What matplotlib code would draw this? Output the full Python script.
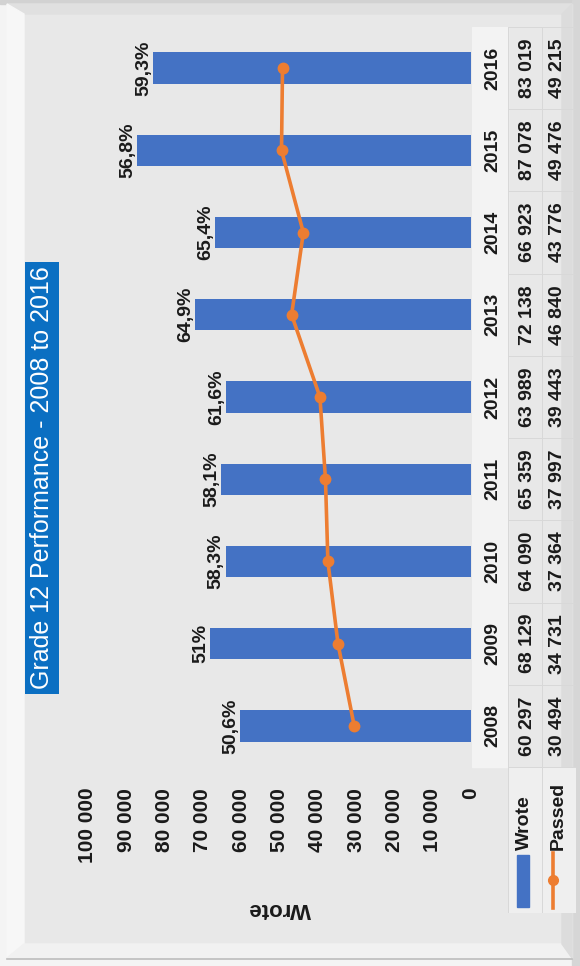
import matplotlib
matplotlib.use("Agg")
import matplotlib.pyplot as plt
from matplotlib.patches import Rectangle, Polygon

plt.rcParams['font.family'] = ['Liberation Sans', 'DejaVu Sans']

# ---- data ----
years = [2008, 2009, 2010, 2011, 2012, 2013, 2014, 2015, 2016]
wrote = [60297, 68129, 64090, 65359, 63989, 72138, 66923, 87078, 83019]
passed = [30494, 34731, 37364, 37997, 39443, 46840, 43776, 49476, 49215]
pct_labels = ["50,6%", "51%", "58,3%", "58,1%", "61,6%", "64,9%", "65,4%", "56,8%", "59,3%"]
value_ticks = [0, 10000, 20000, 30000, 40000, 50000, 60000, 70000, 80000, 90000, 100000]
title = "Grade 12 Performance - 2008 to 2016"

W, H = 580, 966
fig = plt.figure(figsize=(W / 100, H / 100), dpi=100, facecolor='#f4f4f4')

def fx(px):
    return px / W

def fy(py):
    return 1 - py / H

# ---- bevelled panel background ----
bg = fig.add_axes([0, 0, 1, 1])
bg.set_xlim(0, W)
bg.set_ylim(H, 0)
bg.axis('off')
L, T, R, B = 7, 4, 572, 958
iL, iT, iR, iB = 24, 14, 562, 944
bg.add_patch(Rectangle((0, 0), W, T, color='#d2d2d2', zorder=0))
bg.add_patch(Rectangle((R, 0), W - R, H, color='#d6d6d6', zorder=0))
bg.add_patch(Rectangle((L, T), R - L, B - T, color='#e8e8e8', zorder=1))
bg.add_patch(Polygon([(L, T), (R, T), (iR, iT), (iL, iT)], closed=True, color='#e0e0e0', zorder=2))
bg.add_patch(Polygon([(L, T), (iL, iT), (iL, iB), (L, B)], closed=True, color='#f7f7f7', zorder=2))
bg.add_patch(Polygon([(L, B), (iL, iB), (iR, iB), (R, B)], closed=True, color='#f1f1f1', zorder=2))
bg.add_patch(Polygon([(R, T), (R, B), (iR, iB), (iR, iT)], closed=True, color='#dcdcdc', zorder=2))
bg.plot([L, R], [B + 1, B + 1], color='#bdbdbd', lw=1.2, zorder=3)

# ---- main chart (rotated: bars grow to the left) ----
ax_top, ax_bot = 27, 767
ax = fig.add_axes([fx(88), fy(ax_bot), fx(471) - fx(88), (ax_bot - ax_top) / H])
ax.patch.set_alpha(0)
idx = list(range(len(years)))
ax.barh(idx, wrote, height=0.38, color='#4472c4', zorder=2)
ax.plot(passed, idx, color='#ed7d31', lw=2.6, marker='o', ms=7.5, zorder=3)
for i, (w, lab) in enumerate(zip(wrote, pct_labels)):
    ax.annotate(lab, (w, i), xytext=(-0.5, 0), textcoords='offset points',
                rotation=90, ha='right', va='center', fontsize=14, fontweight='bold',
                color='#1a1a1a')
ax.set_xlim(100000, 0)
ax.set_ylim(-0.5, 8.5)
ax.set_xticks(value_ticks)
ax.set_xticklabels([f"{v:,}".replace(",", " ") for v in value_ticks],
                   rotation=90, fontsize=15, fontweight='bold', color='#1a1a1a')
ax.tick_params(axis='x', length=0, pad=15)
ax.set_yticks([])
for s in ax.spines.values():
    s.set_visible(False)
ax.set_xlabel("Wrote", rotation=180, fontsize=16, fontweight='bold', color='#1a1a1a', labelpad=25)

# ---- data table ----
tab_bot = 913
ppu = (ax_bot - ax_top) / 9.0
ylo = -0.5 - (tab_bot - ax_bot) / ppu
at = fig.add_axes([fx(472), fy(tab_bot), fx(576) - fx(472), (tab_bot - ax_top) / H])
at.set_xlim(472, 576)
at.set_ylim(ylo, 8.5)
at.axis('off')
at.add_patch(Rectangle((472, -0.5), 36, 9, color='#f3f3f3', zorder=0))
for k in range(10):
    at.plot([508, 576], [k - 0.5, k - 0.5], color='#d8d8d8', lw=0.7, zorder=1)
at.plot([508, 508], [ylo, 8.5], color='#d8d8d8', lw=0.7, zorder=1)
at.plot([542, 542], [ylo, 8.5], color='#d8d8d8', lw=0.7, zorder=1)
at.add_patch(Rectangle((508, ylo), 68, -0.5 - ylo, facecolor='#efefef', edgecolor='#d8d8d8', lw=0.7, zorder=0))
for i, (yr, w, p) in enumerate(zip(years, wrote, passed)):
    at.text(493, i, str(yr), rotation=90, ha='center', va='center', fontsize=14,
            fontweight='bold', color='#1a1a1a')
    at.text(527, i, f"{w:,}".replace(",", " "), rotation=90, ha='center', va='center',
            fontsize=14, fontweight='bold', color='#1a1a1a')
    at.text(558, i, f"{p:,}".replace(",", " "), rotation=90, ha='center', va='center',
            fontsize=14, fontweight='bold', color='#1a1a1a')

def dy(py):
    return 8 - (py - 68) / ppu

at.text(524, dy(850), "Wrote", rotation=90, ha='center', va='bottom', fontsize=14,
        fontweight='bold', color='#1a1a1a')
at.text(558, dy(850), "Passed", rotation=90, ha='center', va='bottom', fontsize=14,
        fontweight='bold', color='#1a1a1a')
at.add_patch(Rectangle((517, dy(907)), 12, dy(855) - dy(907), color='#4472c4', zorder=2))
at.plot([553, 553], [dy(908), dy(853)], color='#ed7d31', lw=2.6, zorder=2)
at.plot([553], [dy(880)], marker='o', ms=7, color='#ed7d31', zorder=3)

# ---- title ----
fig.text(fx(42), fy(478), title, rotation=90, ha='center', va='center', fontsize=18,
         color='white', bbox=dict(boxstyle='square,pad=0.2', fc='#0b6fc2', ec='none'))

fig.savefig("out.png", dpi=100, facecolor=fig.get_facecolor())
